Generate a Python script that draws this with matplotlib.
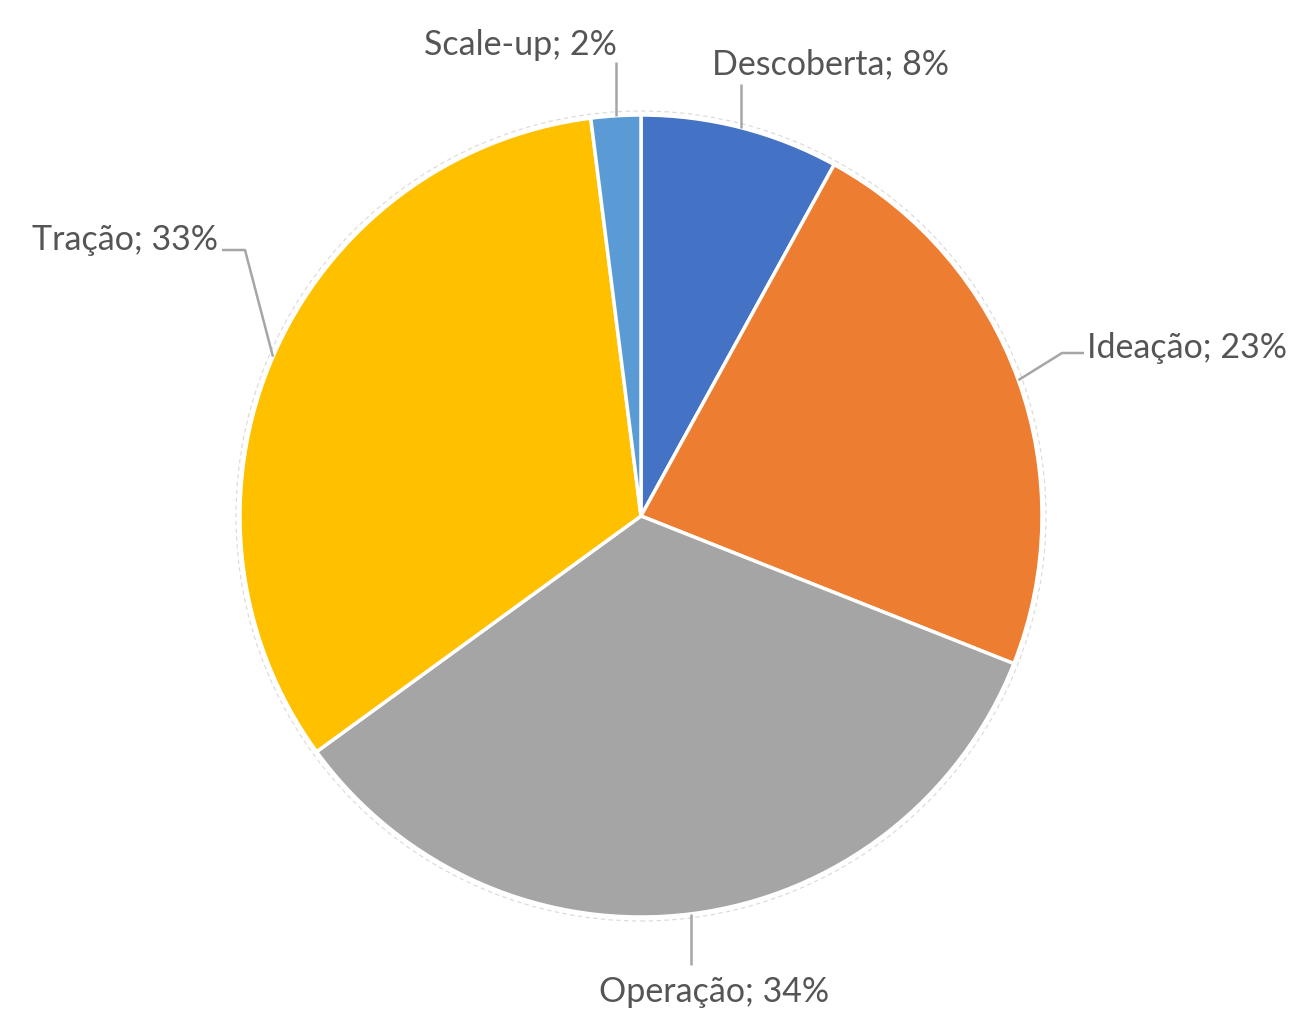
import numpy as np
import matplotlib
matplotlib.use("Agg")
import matplotlib.pyplot as plt
from matplotlib.patches import Circle

# Distribution of startups by stage
stages = ["Descoberta", "Ideação", "Operação", "Tração", "Scale-up"]
shares = [8, 23, 34, 33, 2]
colors = ["#4472C4", "#ED7D31", "#A5A5A5", "#FFC000", "#5B9BD5"]

W, H = 1302, 1010
fig = plt.figure(figsize=(W / 100, H / 100), dpi=100)
ax = fig.add_axes([0, 0, 1, 1])
ax.set_xlim(0, W)
ax.set_ylim(0, H)
ax.set_aspect("equal")
ax.axis("off")

cx, cy, r = 641, H - 516, 401
wedges, _ = ax.pie(
    shares, colors=colors, startangle=90, counterclock=False,
    center=(cx, cy), radius=r,
    wedgeprops=dict(edgecolor="white", linewidth=2.5),
)
ax.set_xlim(0, W)
ax.set_ylim(0, H)

# faint outline around the pie
ax.add_patch(Circle((cx, cy), r + 4, fill=False, edgecolor="#D9D9D9",
                    linewidth=0.8, linestyle=(0, (4, 3)), zorder=0))

font = dict(family=["Lato", "DejaVu Sans"], fontsize=24.5, color="#555555")
line_kw = dict(color="#A6A6A6", linewidth=1.8, solid_capstyle="butt", zorder=3)

# label placement: (elbow points after the anchor, text xy, ha)
layout = {
    "Descoberta": ([None, 926], (712, 946), "left"),
    "Ideação": ([(1062, 657), (1084, 657)], (1087, 662), "left"),
    "Operação": ([None, 45], (714, 18), "center"),
    "Tração": ([(245, 760), (222, 760)], (218, 770), "right"),
    "Scale-up": ([None, 948], (617, 965), "right"),
}

for w, name, val in zip(wedges, stages, shares):
    mid = np.deg2rad((w.theta1 + w.theta2) / 2)
    ax_pt = (cx + r * np.cos(mid), cy + r * np.sin(mid))
    pts, txy, ha = layout[name]
    if pts[0] is None:
        path = [ax_pt, (ax_pt[0], pts[1])]
    else:
        path = [ax_pt] + list(pts)
    xs, ys = zip(*path)
    ax.plot(xs, ys, **line_kw)
    ax.text(txy[0], txy[1], f"{name}; {val}%", ha=ha, va="center", **font)

fig.savefig("out.png", dpi=100, facecolor="white")
